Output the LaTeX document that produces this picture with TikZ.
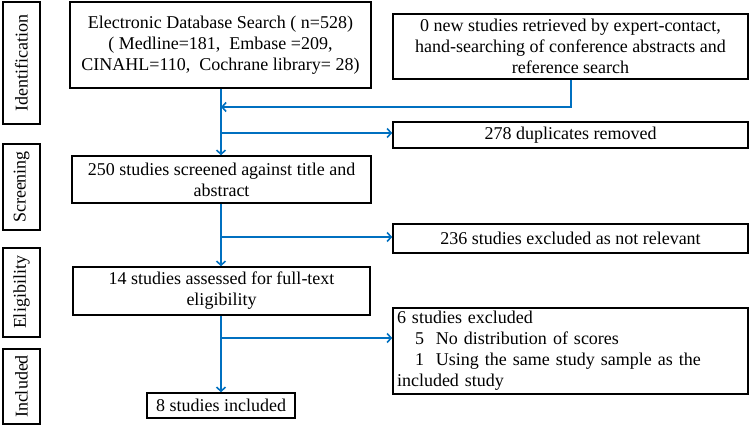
\documentclass[tikz,border=0pt]{standalone}
\usepackage{fontspec}
\setmainfont{Liberation Serif}
\usetikzlibrary{positioning, arrows.meta}
\definecolor{flowblue}{RGB}{0,112,192}
\begin{document}
\begin{tikzpicture}
	[x=1pt, y=-1pt,
	 box/.style={draw, line width=1.6, align=center, inner sep=0pt, font=\fontsize{18}{21}\selectfont},
	 phase/.style={draw, line width=1.6, rotate=90, inner sep=0pt, font=\fontsize{18}{20}\selectfont},
	 flow/.style={draw=flowblue, line width=1.6, -{Straight Barb[length=4pt,width=9pt]}}]
	\useasboundingbox (0,0) rectangle (750,427);
	% phases %
	\node[phase, minimum width=122, minimum height=37] (ident) at (21.5,63) {Identification};
	\node[phase, minimum width=86, minimum height=37] (screen) at (21.5,187) {Screening};
	\node[phase, minimum width=89, minimum height=37] (elig) at (21.5,292.5) {Eligibility};
	\node[phase, minimum width=75, minimum height=37] (incl) at (21.5,386.5) {Included};
 
	% boxes %
	\node[box, minimum width=301, minimum height=86] (search) at (220.5,45) {Electronic Database Search ( n=528)\\( Medline=181,\ \ Embase =209,\\CINAHL=110,\ \ Cochrane library= 28)};
	\node[box, minimum width=355, minimum height=65] (other) at (570.5,46.5) {0 new studies retrieved by expert-contact,\\hand-searching of conference abstracts and\\reference search};
	\node[box, minimum width=355, minimum height=26] (dup) at (570.5,135) {278 duplicates removed};
	\node[box, minimum width=299, minimum height=47] (screened) at (221.5,179.5) {250 studies screened against title and\\abstract};
	\node[box, minimum width=355, minimum height=29] (irrel) at (570.5,238.5) {236 studies excluded as not relevant};
	\node[box, minimum width=355, minimum height=86, align=left, text width=347] (excl) at (570.5,351) {6 studies excluded\\\hspace{1em}5\ \ No distribution of scores\\\hspace{1em}1\ \ Using the same study sample as the\\included study};
	\node[box, minimum width=297, minimum height=48] (full) at (221.5,291) {14 studies assessed for full-text\\eligibility};
	\node[box, minimum width=148, minimum height=25] (final) at (221,405.5) {8 studies included};
 
	% edges %
	\coordinate (j1) at (221,107);
	\coordinate (j2) at (221,133);
	\coordinate (j3) at (221,237);
	\coordinate (j4) at (221,338);
	\draw[flow] (search.south -| j1) -- (screened.north -| j1);
	\draw[flow] (other.south -| 571,0) |- (j1);
	\draw[flow] (j2) -- (j2 -| dup.west);
	\draw[flow] (screened.south -| j1) -- (full.north -| j1);
	\draw[flow] (j3) -- (j3 -| irrel.west);
	\draw[flow] (full.south -| j1) -- (final.north -| j1);
	\draw[flow] (j4) -- (j4 -| excl.west);
\end{tikzpicture}
\end{document}
